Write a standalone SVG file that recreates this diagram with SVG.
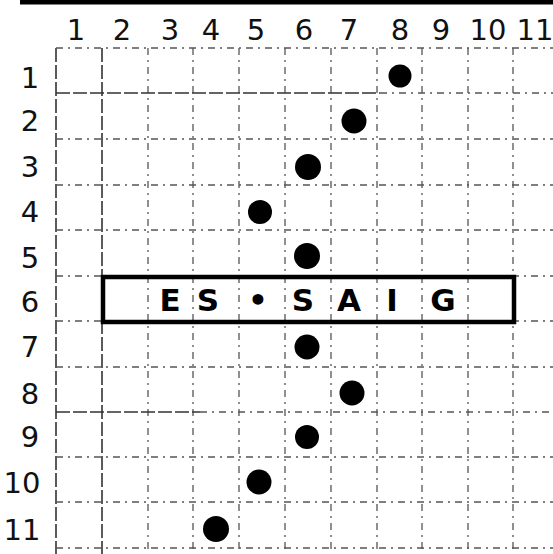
<svg xmlns="http://www.w3.org/2000/svg" width="553" height="554" viewBox="0 0 553 554">
<style>
.g{stroke:#555;stroke-width:1.3;stroke-dasharray:7 5 2 5;fill:none}
.gs{stroke:#333;stroke-width:1.6;stroke-dasharray:14 3;fill:none}
.lbl{font-family:"DejaVu Sans",sans-serif;font-size:29px;fill:#111;text-anchor:middle}
.bx{font-family:"DejaVu Sans",sans-serif;font-size:31px;font-weight:bold;fill:#000;text-anchor:middle}
.dot{fill:#000}
</style>
<rect width="553" height="554" fill="#fff"/>
<line x1="20" y1="2" x2="553" y2="2" stroke="#000" stroke-width="5"/>
<g id="grid">
<line class="gs" x1="56" y1="48" x2="56" y2="554"/>
<line class="gs" x1="102" y1="48" x2="102" y2="554"/>
<line class="g" x1="148" y1="48" x2="148" y2="554"/>
<line class="g" x1="193" y1="48" x2="193" y2="554"/>
<line class="g" x1="239" y1="48" x2="239" y2="554"/>
<line class="g" x1="285" y1="48" x2="285" y2="554"/>
<line class="g" x1="331" y1="48" x2="331" y2="554"/>
<line class="g" x1="377" y1="48" x2="377" y2="554"/>
<line class="g" x1="422" y1="48" x2="422" y2="554"/>
<line class="g" x1="468" y1="48" x2="468" y2="554"/>
<line class="g" x1="513" y1="48" x2="513" y2="554"/>
<line class="g" x1="56" y1="48" x2="553" y2="48"/>
<line class="gs" x1="56" y1="93" x2="380" y2="93"/>
<line class="g" x1="380" y1="93" x2="553" y2="93"/>
<line class="g" x1="56" y1="139" x2="553" y2="139"/>
<line class="g" x1="56" y1="185" x2="553" y2="185"/>
<line class="g" x1="56" y1="230" x2="553" y2="230"/>
<line class="g" x1="56" y1="276" x2="553" y2="276"/>
<line class="g" x1="56" y1="321" x2="553" y2="321"/>
<line class="g" x1="56" y1="367" x2="553" y2="367"/>
<line class="gs" x1="56" y1="412" x2="200" y2="412"/>
<line class="g" x1="200" y1="412" x2="553" y2="412"/>
<line class="g" x1="56" y1="457" x2="553" y2="457"/>
<line class="g" x1="56" y1="502" x2="553" y2="502"/>
<line class="g" x1="56" y1="548" x2="553" y2="548"/>
</g>
<g id="col-labels">
<text class="lbl" x="76" y="40">1</text>
<text class="lbl" x="122" y="40">2</text>
<text class="lbl" x="170" y="40">3</text>
<text class="lbl" x="211" y="40">4</text>
<text class="lbl" x="256" y="40">5</text>
<text class="lbl" x="304" y="40">6</text>
<text class="lbl" x="349" y="40">7</text>
<text class="lbl" x="400" y="40">8</text>
<text class="lbl" x="441" y="40">9</text>
<text class="lbl" x="488" y="40">10</text>
<text class="lbl" x="535" y="40">11</text>
</g>
<g id="row-labels">
<text class="lbl" x="30" y="88">1</text>
<text class="lbl" x="30" y="131">2</text>
<text class="lbl" x="30" y="177">3</text>
<text class="lbl" x="30" y="222">4</text>
<text class="lbl" x="30" y="268">5</text>
<text class="lbl" x="30" y="312">6</text>
<text class="lbl" x="30" y="357">7</text>
<text class="lbl" x="30" y="404">8</text>
<text class="lbl" x="30" y="447">9</text>
<text class="lbl" x="22" y="493">10</text>
<text class="lbl" x="22" y="540">11</text>
</g>
<g id="box">
<rect x="103" y="277" width="411" height="45" fill="none" stroke="#000" stroke-width="4.5"/>
<text class="bx" x="170" y="311">E</text>
<text class="bx" x="208" y="311">S</text>
<text class="bx" x="258" y="311">•</text>
<text class="bx" x="303" y="311">S</text>
<text class="bx" x="349" y="311">A</text>
<text class="bx" x="392" y="311">I</text>
<text class="bx" x="443" y="311">G</text>
</g>
<g id="dots">
<circle class="dot" cx="400" cy="76" r="11.5"/>
<circle class="dot" cx="354" cy="121" r="12.5"/>
<circle class="dot" cx="308" cy="167" r="13"/>
<circle class="dot" cx="260" cy="212" r="12"/>
<circle class="dot" cx="307" cy="256" r="13"/>
<circle class="dot" cx="307" cy="347" r="12.5"/>
<circle class="dot" cx="352" cy="393" r="12.5"/>
<circle class="dot" cx="307" cy="437" r="12"/>
<circle class="dot" cx="259" cy="482" r="12.5"/>
<circle class="dot" cx="216" cy="529" r="13"/>
</g>
</svg>
